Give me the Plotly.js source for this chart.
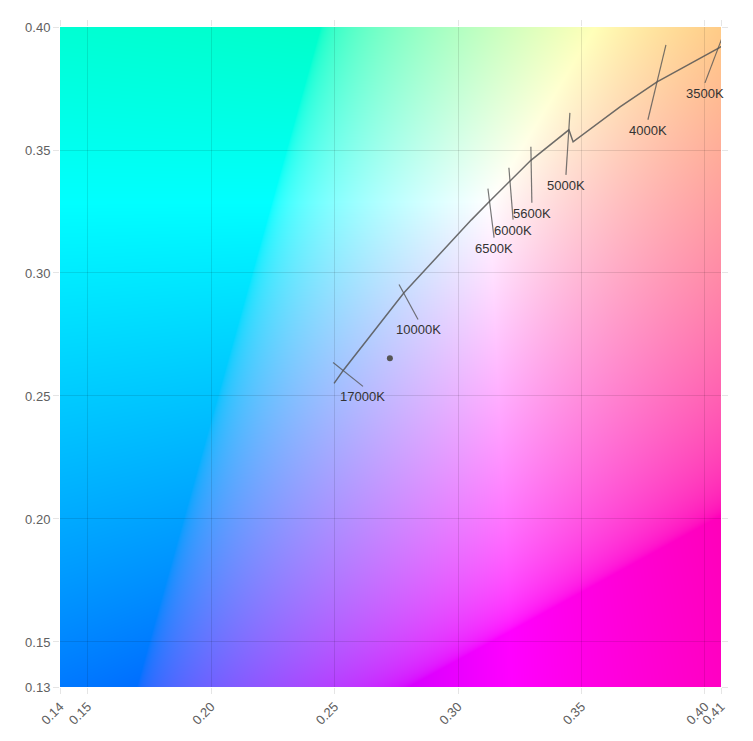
<!DOCTYPE html>
<html>
<head>
<meta charset="utf-8">
<script src="https://cdn.plot.ly/plotly-3.0.1.min.js"></script>
<style>html,body{margin:0;padding:0;background:#fff;}#chart{width:753px;height:741px;}</style>
</head>
<body>
<div id="chart"></div>
<script>
// ---- data ----
const xRange = [0.1388, 0.4065];
const yRange = [0.1317, 0.40];
const xTickVals = [0.1388, 0.15, 0.20, 0.25, 0.30, 0.35, 0.40, 0.4065];
const xTickText = ['0.14', '0.15', '0.20', '0.25', '0.30', '0.35', '0.40', '0.41'];
const yTickVals = [0.1317, 0.15, 0.20, 0.25, 0.30, 0.35, 0.40];
const yTickText = ['0.13', '0.15', '0.20', '0.25', '0.30', '0.35', '0.40'];

const locusX = [0.2498, 0.2538, 0.2781, 0.2952, 0.3054, 0.3128, 0.3214, 0.3295, 0.3449, 0.3466, 0.3656, 0.3806, 0.4057, 0.4089];
const locusY = [0.2551, 0.2608, 0.2920, 0.3108, 0.3216, 0.3292, 0.3378, 0.3458, 0.3582, 0.3533, 0.3675, 0.3777, 0.3915, 0.3935];

const isoLabels = ['17000K', '10000K', '6500K', '6000K', '5600K', '5000K', '4000K', '3500K'];
const isoX1 = [0.2494, 0.2761, 0.3121, 0.3206, 0.3295, 0.3453, 0.3842, 0.4089];
const isoY1 = [0.2636, 0.2953, 0.3343, 0.3428, 0.3513, 0.3651, 0.3927, 0.4008];
const isoX2 = [0.2615, 0.2838, 0.3146, 0.3223, 0.3299, 0.3437, 0.3769, 0.4000];
const isoY2 = [0.2539, 0.2811, 0.3144, 0.3217, 0.3286, 0.3399, 0.3623, 0.3773];

const pointX = [0.2724];
const pointY = [0.2653];

// ---- chromaticity background (xy -> sRGB, max-normalised) ----
function xyToRgb(x, y) {
  const X = x / y, Y = 1, Z = (1 - x - y) / y;
  let r = 3.2406 * X - 1.5372 * Y - 0.4986 * Z;
  let g = -0.9689 * X + 1.8758 * Y + 0.0415 * Z;
  let b = 0.0557 * X - 0.2040 * Y + 1.0570 * Z;
  r = Math.max(0, r); g = Math.max(0, g); b = Math.max(0, b);
  const m = Math.max(r, g, b) || 1;
  const gam = v => { v = v / m; return v <= 0.0031308 ? 12.92 * v : 1.055 * Math.pow(v, 1 / 2.4) - 0.055; };
  return [Math.round(gam(r) * 255), Math.round(gam(g) * 255), Math.round(gam(b) * 255)];
}
const W = 661, H = 660;
const cv = document.createElement('canvas');
cv.width = W; cv.height = H;
const ctx = cv.getContext('2d');
const img = ctx.createImageData(W, H);
for (let j = 0; j < H; j++) {
  const yy = yRange[1] - (j + 0.5) * (yRange[1] - yRange[0]) / H;
  for (let i = 0; i < W; i++) {
    const xx = xRange[0] + (i + 0.5) * (xRange[1] - xRange[0]) / W;
    const c = xyToRgb(xx, yy);
    const k = (j * W + i) * 4;
    img.data[k] = c[0]; img.data[k + 1] = c[1]; img.data[k + 2] = c[2]; img.data[k + 3] = 255;
  }
}
ctx.putImageData(img, 0, 0);
const bgURL = cv.toDataURL('image/png');

// ---- traces ----
const isoXs = [], isoYs = [];
for (let i = 0; i < isoLabels.length; i++) {
  isoXs.push(isoX1[i], isoX2[i], null);
  isoYs.push(isoY1[i], isoY2[i], null);
}
const traces = [
  { type: 'scatter', mode: 'lines', x: isoXs, y: isoYs, line: { color: 'rgba(85,85,85,0.8)', width: 1.2 }, hoverinfo: 'skip', showlegend: false },
  { type: 'scatter', mode: 'lines', x: locusX, y: locusY, line: { color: 'rgba(85,85,85,0.85)', width: 1.5 }, hoverinfo: 'skip', showlegend: false },
  { type: 'scatter', mode: 'markers', x: pointX, y: pointY, marker: { color: '#555', size: 6 }, showlegend: false, cliponaxis: false }
];

const annotations = isoLabels.map((t, i) => ({
  x: isoX2[i], y: isoY2[i], xref: 'x', yref: 'y', text: t, showarrow: false,
  xanchor: 'center', yanchor: 'top', yshift: -1,
  font: { family: 'Arial, Liberation Sans, sans-serif', size: 13, color: '#333' }
}));

const axisCommon = {
  showgrid: true, gridcolor: 'rgba(0,0,0,0.1)', gridwidth: 1,
  zeroline: false, showline: false,
  ticks: 'outside', ticklen: 6, tickcolor: 'rgba(0,0,0,0.1)', tickwidth: 1, mirror: 'ticks',
  tickfont: { family: 'Arial, Liberation Sans, sans-serif', size: 13, color: '#606060' },
  tickmode: 'array', fixedrange: true
};

const layout = {
  width: 753, height: 741,
  margin: { l: 60, r: 32, t: 27, b: 54 },
  paper_bgcolor: '#fff', plot_bgcolor: '#fff',
  xaxis: Object.assign({}, axisCommon, { range: xRange, tickvals: xTickVals, ticktext: xTickText, tickangle: -45 }),
  yaxis: Object.assign({}, axisCommon, { range: yRange, tickvals: yTickVals, ticktext: yTickText }),
  images: [{
    source: bgURL, xref: 'x', yref: 'y', x: xRange[0], y: yRange[1],
    sizex: xRange[1] - xRange[0], sizey: yRange[1] - yRange[0],
    sizing: 'stretch', xanchor: 'left', yanchor: 'top', layer: 'below'
  }],
  annotations: annotations,
  showlegend: false
};

Plotly.newPlot('chart', traces, layout, { displayModeBar: false, staticPlot: true });
</script>
</body>
</html>
